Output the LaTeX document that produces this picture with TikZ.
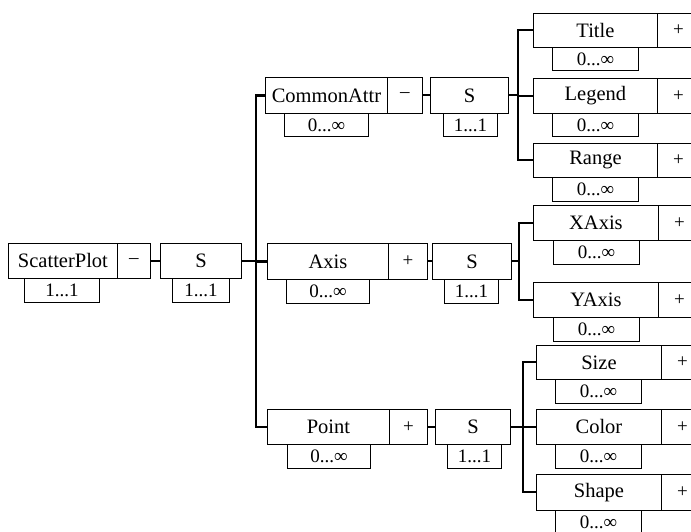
\documentclass[tikz,border=0pt]{standalone}
\usepackage{fontspec}
\setmainfont{Liberation Serif}
\tikzset{
  box/.style={draw, line width=0.9pt, inner sep=0pt, anchor=north west, minimum height=35pt},
  namebox/.style={box, font=\fontsize{20.5}{24}\selectfont},
  signbox/.style={box, font=\fontsize{19}{22}\selectfont},
  multbox/.style={draw, line width=0.9pt, inner sep=0pt, anchor=north west, minimum height=23.5pt, font=\fontsize{19}{22}\selectfont},
  link/.style={line width=2pt},
  trunk/.style={line width=2.6pt}
}
\begin{document}
\begin{tikzpicture}[x=1pt,y=-1pt]
\path[use as bounding box] (0,0) rectangle (691,532);
\clip (0,0) rectangle (691,532);
% ScatterPlot
\node[namebox, minimum width=109pt] (sp) at (8,243) {ScatterPlot};
\node[signbox, minimum width=33pt] (sps) at (117,243) {--};
\node[multbox, minimum width=75pt] (spm) at (24,278) {1...1};
\node[namebox, minimum width=81pt] (s0) at (160,243) {S};
\node[multbox, minimum width=57pt] (s0m) at (172,278) {1...1};
% CommonAttr
\node[namebox, minimum width=122pt, minimum height=36pt] (ca) at (265,77) {CommonAttr};
\node[signbox, minimum width=35pt, minimum height=36pt] (cas) at (387,77) {--};
\node[multbox, minimum width=84pt] (cam) at (284,113) {0...∞};
\node[namebox, minimum width=78pt, minimum height=36pt] (s1) at (430,77) {S};
\node[multbox, minimum width=54pt] (s1m) at (443,113) {1...1};
% Axis
\node[namebox, minimum width=121pt, minimum height=36pt] (ax) at (267,243) {Axis};
\node[signbox, minimum width=39pt, minimum height=36pt] (axs) at (388,243) {+};
\node[multbox, minimum width=83pt] (axm) at (286,279) {0...∞};
\node[namebox, minimum width=79pt, minimum height=36pt] (s2) at (432,243) {S};
\node[multbox, minimum width=54pt] (s2m) at (444,279) {1...1};
% Point
\node[namebox, minimum width=122pt] (pt) at (267,409) {Point};
\node[signbox, minimum width=38pt] (pts) at (389,409) {+};
\node[multbox, minimum width=83pt] (ptm) at (287,444) {0...∞};
\node[namebox, minimum width=75pt] (s3) at (435,409) {S};
\node[multbox, minimum width=54pt] (s3m) at (447,444) {1...1};
% CommonAttr children
\node[namebox, minimum width=124pt, minimum height=34pt] (ti) at (533,13) {Title};
\node[signbox, minimum width=42pt, minimum height=34pt] (tis) at (657,13) {+};
\node[multbox, minimum width=86pt] (tim) at (552,47) {0...∞};
\node[namebox, minimum width=124pt] (le) at (533,78) {Legend};
\node[signbox, minimum width=42pt] (les) at (657,78) {+};
\node[multbox, minimum width=86pt] (lem) at (552,113) {0...∞};
\node[namebox, minimum width=124pt, minimum height=34pt] (ra) at (533,143) {Range};
\node[signbox, minimum width=42pt, minimum height=34pt] (ras) at (657,143) {+};
\node[multbox, minimum width=86pt] (ram) at (552,177) {0...∞};
% Axis children
\node[namebox, minimum width=125pt] (xa) at (533,205) {XAxis};
\node[signbox, minimum width=42pt] (xas) at (658,205) {+};
\node[multbox, minimum width=86pt] (xam) at (553,240) {0...∞};
\node[namebox, minimum width=125pt] (ya) at (533,282) {YAxis};
\node[signbox, minimum width=42pt] (yas) at (658,282) {+};
\node[multbox, minimum width=86pt] (yam) at (553,317) {0...∞};
% Point children
\node[namebox, minimum width=125pt, minimum height=34pt] (sz) at (536,345) {Size};
\node[signbox, minimum width=42pt, minimum height=34pt] (szs) at (661,345) {+};
\node[multbox, minimum width=86pt] (szm) at (555,379) {0...∞};
\node[namebox, minimum width=125pt] (co) at (536,409) {Color};
\node[signbox, minimum width=42pt] (cos) at (661,409) {+};
\node[multbox, minimum width=86pt] (com) at (555,444) {0...∞};
\node[namebox, minimum width=125pt, minimum height=36pt] (sh) at (536,474) {Shape};
\node[signbox, minimum width=42pt, minimum height=36pt] (shs) at (661,474) {+};
\node[multbox, minimum width=86pt] (shm) at (555,510) {0...∞};
% connectors
\draw[link] (sps.east) -- (s0.west);
\draw[trunk] (s0.east) -- ++(14,0) |- (ca.west);
\draw[trunk] (s0.east) -- ++(14,0) |- (ax.west);
\draw[trunk] (s0.east) -- ++(14,0) |- (pt.west);
\draw[link] (cas.east) -- (s1.west);
\draw[link] (axs.east) -- (s2.west);
\draw[link] (pts.east) -- (s3.west);
\draw[link] (s1.east) -- ++(9,0) |- (ti.west);
\draw[link] (s1.east) -- ++(9,0) |- (le.west);
\draw[link] (s1.east) -- ++(9,0) |- (ra.west);
\draw[link] (s2.east) -- ++(7,0) |- (xa.west);
\draw[link] (s2.east) -- ++(7,0) |- (ya.west);
\draw[link] (s3.east) -- ++(12,0) |- (sz.west);
\draw[link] (s3.east) -- ++(12,0) |- (co.west);
\draw[link] (s3.east) -- ++(12,0) |- (sh.west);
\end{tikzpicture}
\end{document}
